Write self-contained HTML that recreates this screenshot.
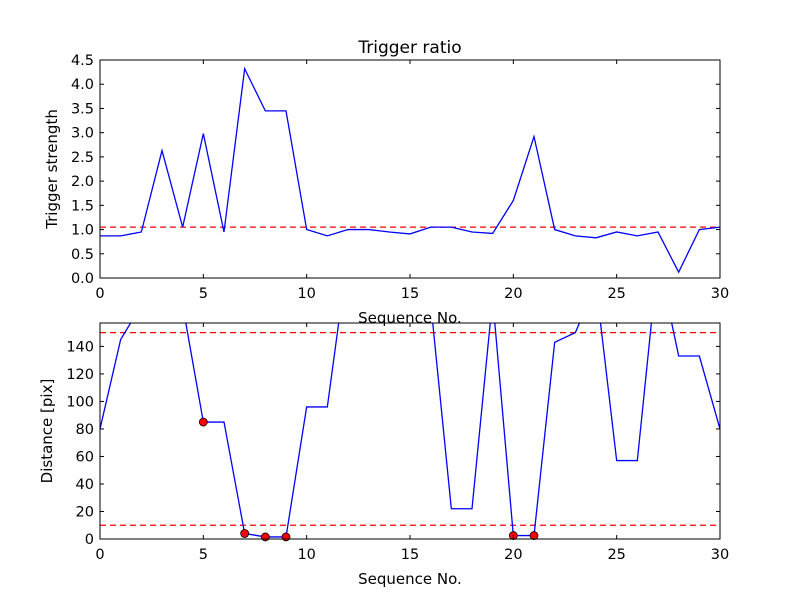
<!DOCTYPE html>
<html><head><meta charset="utf-8"><style>
body{margin:0;background:#fff;}
svg{font-family:"DejaVu Sans","Liberation Sans",sans-serif;}
</style></head><body>
<svg id="c" width="800" height="600"></svg>
<script>
const xs=[0,1,2,3,4,5,6,7,8,9,10,11,12,13,14,15,16,17,18,19,20,21,22,23,24,25,26,27,28,29,30];
const ratio=[0.87,0.87,0.95,2.63,1.05,2.98,0.95,4.32,3.45,3.45,1.0,0.87,1.0,1.0,0.95,0.91,1.05,1.05,0.95,0.92,1.6,2.92,1.0,0.87,0.83,0.95,0.87,0.95,0.12,1.0,1.05];
const ratioThreshold=1.05;
const dist=[80,145,170,200,170,85,85,4,1.5,1.5,96,96,207,200,200,200,172,22,22,175,2.5,2.5,143,150,185,57,57,204,133,133,80];
const flagIdx=[5,7,8,9,20,21];
const distThresholds=[10,150];
const topTicks=[0,0.5,1.0,1.5,2.0,2.5,3.0,3.5,4.0,4.5];
const botTicks=[0,20,40,60,80,100,120,140];
const xTicks=[0,5,10,15,20,25,30];

const NS="http://www.w3.org/2000/svg",svg=document.getElementById('c');
function mk(t,a,p){const e=document.createElementNS(NS,t);for(const k in a)e.setAttribute(k,a[k]);(p||svg).appendChild(e);return e;}
const L=100,R=720;
const sx=v=>L+(v-0)/30*(R-L);
const mkY=(top,bot,ymax)=>v=>bot-v/ymax*(bot-top);
const cp1=mk('clipPath',{id:'cp1'});mk('rect',{x:L,y:60,width:R-L,height:218},cp1);
const cp2=mk('clipPath',{id:'cp2'});mk('rect',{x:L,y:323,width:R-L,height:216},cp2);
function axes(top,bot,sy,ticks,fmt,prefix){
  const fr=mk('rect',{x:L,y:top,width:R-L,height:bot-top,fill:'none',stroke:'#000','stroke-width':1});
  
  
  ticks.forEach(t=>{const y=sy(t);
    mk('line',{x1:L,x2:L+4,y1:y,y2:y,stroke:'#000'});mk('line',{x1:R,x2:R-4,y1:y,y2:y,stroke:'#000'});
    const tx=mk('text',{x:L-6,y:y+5,'text-anchor':'end','font-size':14.5});tx.textContent=fmt(t);
    
    });
  xTicks.forEach(t=>{const x=sx(t);
    mk('line',{x1:x,x2:x,y1:bot,y2:bot-4,stroke:'#000'});mk('line',{x1:x,x2:x,y1:top,y2:top+4,stroke:'#000'});
    const tx=mk('text',{x:x,y:bot+20,'text-anchor':'middle','font-size':14.5});tx.textContent=t;
    
    });
}
const sy1=mkY(60,278,4.5);
const th=mk('line',{x1:L,x2:R,y1:sy1(ratioThreshold),y2:sy1(ratioThreshold),stroke:'#f00','stroke-dasharray':'6,4','stroke-width':1.2});


const l1=mk('polyline',{points:xs.map((x,i)=>sx(x)+','+sy1(ratio[i])).join(' '),fill:'none',stroke:'#00f','stroke-width':1.3,'clip-path':'url(#cp1)'});


axes(60,278,sy1,topTicks,v=>v.toFixed(1),'top');
let t=mk('text',{x:410,y:53,'text-anchor':'middle','font-size':17});t.textContent='Trigger ratio';

t=mk('text',{x:0,y:0,'text-anchor':'middle','font-size':15,transform:'translate(57,169) rotate(-90)'});t.textContent='Trigger strength';

t=mk('text',{x:410,y:323,'text-anchor':'middle','font-size':15});t.textContent='Sequence No.';

const sy2=mkY(323,539,157);
distThresholds.forEach(v=>{const l=mk('line',{x1:L,x2:R,y1:sy2(v),y2:sy2(v),stroke:'#f00','stroke-dasharray':'6,4','stroke-width':1.2});
  
  });
const l2=mk('polyline',{points:xs.map((x,i)=>sx(x)+','+sy2(dist[i])).join(' '),fill:'none',stroke:'#00f','stroke-width':1.3,'clip-path':'url(#cp2)'});


flagIdx.forEach(i=>{const c=mk('circle',{cx:sx(xs[i]),cy:sy2(dist[i]),r:4,fill:'#f00',stroke:'#000','stroke-width':0.8});
  
  });
axes(323,539,sy2,botTicks,v=>String(v),'bottom');
t=mk('text',{x:0,y:0,'text-anchor':'middle','font-size':15,transform:'translate(52,431) rotate(-90)'});t.textContent='Distance [pix]';

t=mk('text',{x:410,y:584,'text-anchor':'middle','font-size':15});t.textContent='Sequence No.';

</script>
</body></html>
